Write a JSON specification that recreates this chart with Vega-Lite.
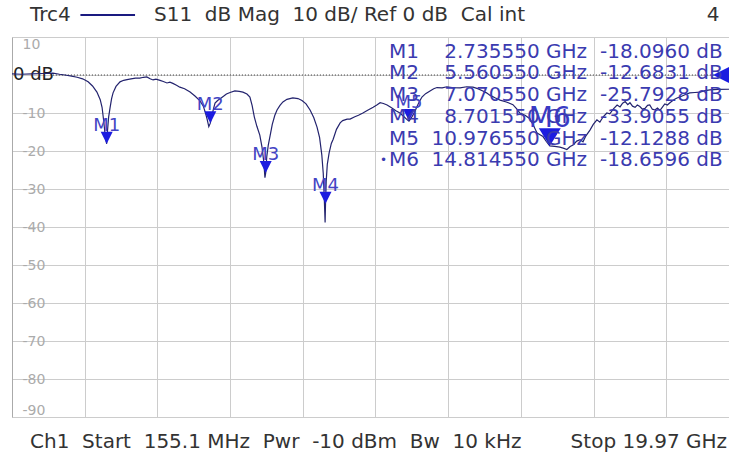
{
  "$schema": "https://vega.github.io/schema/vega-lite/v6.json",
  "width": 717,
  "height": 380,
  "autosize": {"type": "none"},
  "padding": {"left": 12, "top": 37, "right": 0, "bottom": 37},
  "background": "white",
  "config": {"view": {"stroke": null}, "font": "DejaVu Sans", "text": {"font": "DejaVu Sans"}},
  "datasets": {
    "one": [{}],
    "trace": [
      {"f": 0.1551, "db": 0.3}, {"f": 0.4, "db": 0.2}, {"f": 0.7, "db": 0.3}, {"f": 1.0, "db": 0.4}, {"f": 1.27, "db": 0.5},
      {"f": 1.45, "db": 0.2}, {"f": 1.6, "db": 0.0}, {"f": 1.78, "db": -0.3}, {"f": 1.93, "db": -0.6}, {"f": 2.08, "db": -1.0},
      {"f": 2.23, "db": -1.8}, {"f": 2.35, "db": -2.9}, {"f": 2.47, "db": -4.5}, {"f": 2.56, "db": -6.5}, {"f": 2.61, "db": -8.5},
      {"f": 2.66, "db": -12.5}, {"f": 2.7, "db": -16.5}, {"f": 2.7355, "db": -18.1}, {"f": 2.76, "db": -14.5}, {"f": 2.79, "db": -11.0},
      {"f": 2.83, "db": -8.5}, {"f": 2.87, "db": -6.2}, {"f": 2.91, "db": -4.7}, {"f": 2.99, "db": -3.0}, {"f": 3.1, "db": -1.8},
      {"f": 3.2, "db": -1.4}, {"f": 3.29, "db": -1.2}, {"f": 3.4, "db": -1.0}, {"f": 3.52, "db": -0.8}, {"f": 3.64, "db": -0.8},
      {"f": 3.74, "db": -0.6}, {"f": 3.83, "db": -0.5}, {"f": 3.92, "db": -1.0}, {"f": 4.0, "db": -1.3}, {"f": 4.08, "db": -1.1},
      {"f": 4.19, "db": -1.4}, {"f": 4.28, "db": -1.7}, {"f": 4.38, "db": -2.1}, {"f": 4.46, "db": -1.9}, {"f": 4.54, "db": -2.2},
      {"f": 4.64, "db": -2.7}, {"f": 4.73, "db": -3.2}, {"f": 4.86, "db": -3.6}, {"f": 5.01, "db": -4.5}, {"f": 5.15, "db": -5.6},
      {"f": 5.28, "db": -6.8}, {"f": 5.37, "db": -8.2}, {"f": 5.42, "db": -9.7}, {"f": 5.47, "db": -11.5}, {"f": 5.52, "db": -13.6},
      {"f": 5.5606, "db": -12.68}, {"f": 5.61, "db": -10.5}, {"f": 5.65, "db": -8.8}, {"f": 5.69, "db": -7.4}, {"f": 5.76, "db": -6.7},
      {"f": 5.82, "db": -6.3}, {"f": 5.92, "db": -5.6}, {"f": 6.0, "db": -5.0}, {"f": 6.1, "db": -4.6}, {"f": 6.23, "db": -4.2},
      {"f": 6.35, "db": -4.3}, {"f": 6.45, "db": -4.5}, {"f": 6.56, "db": -5.0}, {"f": 6.64, "db": -5.8}, {"f": 6.7, "db": -8.0},
      {"f": 6.76, "db": -11.0}, {"f": 6.83, "db": -13.5}, {"f": 6.91, "db": -15.8}, {"f": 6.97, "db": -19.0}, {"f": 7.02, "db": -23.0},
      {"f": 7.05, "db": -27.0}, {"f": 7.0706, "db": -25.79}, {"f": 7.1, "db": -21.5}, {"f": 7.14, "db": -18.5}, {"f": 7.19, "db": -16.0},
      {"f": 7.25, "db": -13.0}, {"f": 7.32, "db": -10.6}, {"f": 7.38, "db": -9.2}, {"f": 7.46, "db": -8.0}, {"f": 7.54, "db": -7.1},
      {"f": 7.65, "db": -6.4}, {"f": 7.81, "db": -6.0}, {"f": 7.95, "db": -6.2}, {"f": 8.06, "db": -6.7}, {"f": 8.17, "db": -7.6},
      {"f": 8.28, "db": -9.2}, {"f": 8.38, "db": -11.2}, {"f": 8.47, "db": -13.7}, {"f": 8.54, "db": -16.5}, {"f": 8.6, "db": -21.0},
      {"f": 8.64, "db": -26.0}, {"f": 8.67, "db": -33.0}, {"f": 8.69, "db": -38.8}, {"f": 8.70155, "db": -33.9}, {"f": 8.72, "db": -28.0},
      {"f": 8.75, "db": -23.5}, {"f": 8.8, "db": -20.5}, {"f": 8.86, "db": -18.0}, {"f": 8.91, "db": -16.9}, {"f": 9.0, "db": -14.3},
      {"f": 9.1, "db": -12.6}, {"f": 9.17, "db": -12.0}, {"f": 9.29, "db": -11.6}, {"f": 9.37, "db": -11.6}, {"f": 9.5, "db": -11.0},
      {"f": 9.6, "db": -10.6}, {"f": 9.72, "db": -10.0}, {"f": 9.85, "db": -9.3}, {"f": 10.0, "db": -8.5}, {"f": 10.1, "db": -7.9},
      {"f": 10.19, "db": -7.3}, {"f": 10.28, "db": -7.5}, {"f": 10.38, "db": -7.9}, {"f": 10.5, "db": -8.6}, {"f": 10.62, "db": -9.4},
      {"f": 10.73, "db": -10.0}, {"f": 10.84, "db": -11.0}, {"f": 10.93, "db": -11.8}, {"f": 10.97655, "db": -12.13}, {"f": 11.04, "db": -11.3},
      {"f": 11.12, "db": -9.9}, {"f": 11.19, "db": -8.4}, {"f": 11.26, "db": -7.0}, {"f": 11.33, "db": -5.8}, {"f": 11.43, "db": -4.9},
      {"f": 11.55, "db": -4.2}, {"f": 11.65, "db": -3.6}, {"f": 11.74, "db": -3.3}, {"f": 11.88, "db": -3.4}, {"f": 12.01, "db": -3.1},
      {"f": 12.15, "db": -3.3}, {"f": 12.37, "db": -3.4}, {"f": 12.55, "db": -3.1}, {"f": 12.72, "db": -3.2}, {"f": 12.85, "db": -3.6},
      {"f": 12.99, "db": -4.2}, {"f": 13.09, "db": -4.7}, {"f": 13.18, "db": -5.3}, {"f": 13.32, "db": -6.0}, {"f": 13.46, "db": -6.6},
      {"f": 13.63, "db": -7.1}, {"f": 13.81, "db": -7.8}, {"f": 13.92, "db": -9.0}, {"f": 14.0, "db": -10.0}, {"f": 14.14, "db": -10.6},
      {"f": 14.27, "db": -11.5}, {"f": 14.38, "db": -13.5}, {"f": 14.47, "db": -15.3}, {"f": 14.56, "db": -15.8}, {"f": 14.63, "db": -16.2},
      {"f": 14.72, "db": -17.5}, {"f": 14.81455, "db": -18.66}, {"f": 14.95, "db": -18.8}, {"f": 15.09, "db": -19.0}, {"f": 15.2, "db": -19.3},
      {"f": 15.28, "db": -19.6}, {"f": 15.37, "db": -18.8}, {"f": 15.45, "db": -18.4}, {"f": 15.55, "db": -17.4}, {"f": 15.64, "db": -17.0},
      {"f": 15.72, "db": -17.6}, {"f": 15.8, "db": -16.0}, {"f": 15.91, "db": -14.5}, {"f": 16.0, "db": -13.0}, {"f": 16.1, "db": -11.8},
      {"f": 16.18, "db": -12.4}, {"f": 16.27, "db": -11.0}, {"f": 16.37, "db": -10.0}, {"f": 16.45, "db": -10.2}, {"f": 16.55, "db": -8.9},
      {"f": 16.65, "db": -7.9}, {"f": 16.73, "db": -8.4}, {"f": 16.8, "db": -7.4}, {"f": 16.87, "db": -7.0}, {"f": 16.94, "db": -7.8},
      {"f": 17.0, "db": -7.3}, {"f": 17.07, "db": -8.2}, {"f": 17.14, "db": -8.5}, {"f": 17.2, "db": -7.9}, {"f": 17.27, "db": -8.3},
      {"f": 17.34, "db": -9.0}, {"f": 17.41, "db": -8.8}, {"f": 17.48, "db": -8.0}, {"f": 17.54, "db": -7.9}, {"f": 17.61, "db": -9.0},
      {"f": 17.68, "db": -9.2}, {"f": 17.75, "db": -8.7}, {"f": 17.82, "db": -9.3}, {"f": 17.89, "db": -8.4}, {"f": 17.95, "db": -7.6},
      {"f": 18.02, "db": -7.9}, {"f": 18.09, "db": -7.3}, {"f": 18.16, "db": -6.8}, {"f": 18.23, "db": -6.3}, {"f": 18.3, "db": -6.0},
      {"f": 18.36, "db": -5.8}, {"f": 18.5, "db": -5.2}, {"f": 18.63, "db": -4.7}, {"f": 18.77, "db": -4.6}, {"f": 18.91, "db": -4.5},
      {"f": 19.05, "db": -4.1}, {"f": 19.18, "db": -3.9}, {"f": 19.4, "db": -3.8}, {"f": 19.7, "db": -3.7}, {"f": 19.97, "db": -3.5}
    ],
    "markers": [
      {"marker": "M1", "row": 1, "freq": 2.73555, "level": -18.096, "freqText": "2.735550 GHz", "levelText": "-18.0960 dB", "active": "no", "bullet": ""},
      {"marker": "M2", "row": 2, "freq": 5.56055, "level": -12.6831, "freqText": "5.560550 GHz", "levelText": "-12.6831 dB", "active": "no", "bullet": ""},
      {"marker": "M3", "row": 3, "freq": 7.07055, "level": -25.7928, "freqText": "7.070550 GHz", "levelText": "-25.7928 dB", "active": "no", "bullet": ""},
      {"marker": "M4", "row": 4, "freq": 8.70155, "level": -33.9055, "freqText": "8.701550 GHz", "levelText": "-33.9055 dB", "active": "no", "bullet": ""},
      {"marker": "M5", "row": 5, "freq": 10.97655, "level": -12.1288, "freqText": "10.976550 GHz", "levelText": "-12.1288 dB", "active": "no", "bullet": ""},
      {"marker": "M6", "row": 6, "freq": 14.81455, "level": -18.6596, "freqText": "14.814550 GHz", "levelText": "-18.6596 dB", "active": "yes", "bullet": "•"}
    ]
  },
  "layer": [
    {
      "layer": [
        {
          "data": {"name": "trace"},
          "mark": {"type": "line", "color": "#23236e", "strokeWidth": 1.2, "clip": true, "opacity": 0},
          "encoding": {
            "x": {"field": "f", "type": "quantitative", "scale": {"domain": [0.1551, 19.7], "nice": false, "zero": false},
              "axis": {"values": [0.1551, 2.1366, 4.1181, 6.0996, 8.0811, 10.0626, 12.0441, 14.0256, 16.0071, 17.9886], "tickCount": 30,
                "grid": true, "gridColor": "#cccccc", "gridWidth": 1, "labels": false, "ticks": false, "domain": false, "title": null}},
            "y": {"field": "db", "type": "quantitative", "scale": {"domain": [-90, 10], "nice": false, "zero": false},
              "axis": {"values": [-90, -80, -70, -60, -50, -40, -30, -20, -10, 0, 10], "tickCount": 30,
                "grid": true, "gridColor": "#cccccc", "gridWidth": 1, "domain": true, "domainColor": "#aaaaaa",
                "ticks": false, "tickSize": 0, "labelAlign": "left", "labelPadding": -10, "labelFlush": true, "labelFlushOffset": 0,
                "labelOverlap": false, "labelColor": "#ababab", "labelFontSize": 14, "labelFont": "DejaVu Sans",
                "labelExpr": "datum.value == 0 ? '' : toString(datum.value)", "title": null}}
          }
        },
        {
          "data": {"name": "one"},
          "mark": {"type": "rule", "color": "#333333", "strokeWidth": 1, "strokeDash": [1, 2]},
          "encoding": {"x": {"datum": 1.27}, "x2": {"datum": 19.7}, "y": {"datum": 0}}
        },
        {
          "data": {"name": "one"},
          "mark": {"type": "text", "align": "left", "baseline": "middle", "fontSize": 18, "color": "#222222", "dx": 1},
          "encoding": {"x": {"datum": 0.1551}, "y": {"datum": 0}, "text": {"value": "0 dB"}}
        },
        {
          "data": {"name": "trace"},
          "mark": {"type": "line", "color": "#23236e", "strokeWidth": 1.2, "clip": true},
          "encoding": {"x": {"field": "f", "type": "quantitative"}, "y": {"field": "db", "type": "quantitative"}}
        },
        {
          "data": {"name": "one"},
          "mark": {"type": "point", "shape": "M-2,0L0,-1L0,1Z", "size": 256, "filled": true, "color": "#1c1ce0", "opacity": 1},
          "encoding": {"x": {"datum": 19.7}, "y": {"datum": 0}}
        },
        {
          "data": {"name": "markers"},
          "transform": [{"filter": "datum.active == 'no'"}],
          "mark": {"type": "point", "shape": "M-1,-2L1,-2L0,0Z", "size": 144, "filled": true, "color": "#1c1ce0", "opacity": 1},
          "encoding": {"x": {"field": "freq", "type": "quantitative"}, "y": {"field": "level", "type": "quantitative"}}
        },
        {
          "data": {"name": "markers"},
          "transform": [{"filter": "datum.active == 'yes'"}],
          "mark": {"type": "point", "shape": "M-1,-1.6L1,-1.6L0,0Z", "size": 484, "filled": true, "color": "#1c1ce0", "opacity": 1},
          "encoding": {"x": {"field": "freq", "type": "quantitative"}, "y": {"field": "level", "type": "quantitative"}}
        },
        {
          "data": {"name": "markers"},
          "transform": [{"filter": "datum.active == 'no'"}],
          "mark": {"type": "text", "align": "center", "baseline": "alphabetic", "dy": -13, "fontSize": 18, "color": "#4444c4"},
          "encoding": {"x": {"field": "freq", "type": "quantitative"}, "y": {"field": "level", "type": "quantitative"}, "text": {"field": "marker"}}
        },
        {
          "data": {"name": "markers"},
          "transform": [{"filter": "datum.active == 'yes'"}],
          "mark": {"type": "text", "align": "center", "baseline": "alphabetic", "dy": -19, "fontSize": 28, "color": "#3a3ac4"},
          "encoding": {"x": {"field": "freq", "type": "quantitative"}, "y": {"field": "level", "type": "quantitative"}, "text": {"field": "marker"}}
        },
        {
          "data": {"name": "one"},
          "mark": {"type": "text", "align": "left", "baseline": "middle", "fontSize": 20, "color": "#333333"},
          "encoding": {"x": {"datum": 0.646}, "y": {"datum": 15.79}, "text": {"value": "Trc4"}}
        },
        {
          "data": {"name": "one"},
          "mark": {"type": "rule", "color": "#1a1a80", "strokeWidth": 2},
          "encoding": {"x": {"datum": 2.02}, "x2": {"datum": 3.509}, "y": {"datum": 15.79}}
        },
        {
          "data": {"name": "one"},
          "mark": {"type": "text", "align": "left", "baseline": "middle", "fontSize": 20, "color": "#333333"},
          "encoding": {"x": {"datum": 4.026}, "y": {"datum": 15.79}, "text": {"value": "S11\u00a0 dB Mag\u00a0 10 dB/ Ref 0 dB\u00a0 Cal int"}}
        },
        {
          "data": {"name": "one"},
          "mark": {"type": "text", "align": "center", "baseline": "middle", "fontSize": 20, "color": "#333333"},
          "encoding": {"x": {"datum": 19.266}, "y": {"datum": 15.79}, "text": {"value": "4"}}
        },
        {
          "data": {"name": "one"},
          "mark": {"type": "text", "align": "left", "baseline": "alphabetic", "fontSize": 20, "color": "#333333"},
          "encoding": {"x": {"datum": 0.646}, "y": {"datum": -98.16}, "text": {"value": "Ch1\u00a0 Start\u00a0 155.1 MHz\u00a0 Pwr\u00a0 -10 dBm\u00a0 Bw\u00a0 10 kHz"}}
        },
        {
          "data": {"name": "one"},
          "mark": {"type": "text", "align": "right", "baseline": "alphabetic", "fontSize": 20, "color": "#333333"},
          "encoding": {"x": {"datum": 19.648}, "y": {"datum": -98.16}, "text": {"value": "Stop 19.97 GHz"}}
        }
      ]
    },
    {
      "data": {"name": "markers"},
      "encoding": {
        "y": {"field": "row", "type": "quantitative", "scale": {"domain": [0.323, 17.83], "reverse": true, "nice": false, "zero": false}, "axis": null}
      },
      "layer": [
        {
          "mark": {"type": "text", "align": "left", "baseline": "middle", "fontSize": 20, "color": "#3b3bb0"},
          "encoding": {"x": {"datum": 10.433}, "text": {"field": "marker"}}
        },
        {
          "mark": {"type": "text", "align": "right", "baseline": "middle", "fontSize": 20, "color": "#3b3bb0"},
          "encoding": {"x": {"datum": 15.831}, "text": {"field": "freqText"}}
        },
        {
          "mark": {"type": "text", "align": "left", "baseline": "middle", "fontSize": 20, "color": "#3b3bb0"},
          "encoding": {"x": {"datum": 16.185}, "text": {"field": "levelText"}}
        },
        {
          "mark": {"type": "text", "align": "right", "baseline": "middle", "fontSize": 12, "color": "#3b3bb0"},
          "encoding": {"x": {"datum": 10.378}, "text": {"field": "bullet"}}
        }
      ]
    }
  ],
  "resolve": {"scale": {"y": "independent"}}
}
